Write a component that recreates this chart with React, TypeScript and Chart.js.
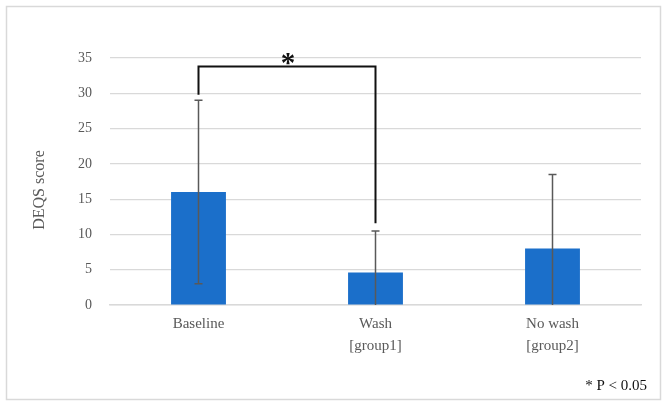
import React, { useEffect, useRef } from "react";
import { Chart, registerables } from "chart.js";

Chart.register(...registerables);

const categories: (string | string[])[] = ["Baseline", ["Wash", "[group1]"], ["No wash", "[group2]"]];
const means: number[] = [16, 4.6, 8];
const errors: number[] = [13, 5.9, 10.5];
const yTicksMax = 35;
const yStep = 5;
const bracketFrom = 0;
const bracketTo = 1;
const bracketTop = 33.8;
const bracketLeftEnd = 29.8;
const bracketRightEnd = 11.6;
const sigLabel = "*";
const axisTitle = "DEQS score";
const footnote = "* P < 0.05";

const SERIF = "'Liberation Serif', 'DejaVu Serif', serif";

export default function App() {
  const ref = useRef<HTMLCanvasElement | null>(null);
  useEffect(() => {
    document.body.style.margin = "0";
    const canvas = ref.current;
    if (!canvas) return;

    const overlay = {
      id: "overlay",
      beforeDraw(chart: any) {
        const ctx = chart.ctx;
        ctx.save();
        ctx.fillStyle = "#ffffff";
        ctx.fillRect(0, 0, chart.width, chart.height);
        ctx.strokeStyle = "#d9d9d9";
        ctx.lineWidth = 1.5;
        ctx.strokeRect(6.5, 6.5, 654, 393);
        ctx.restore();
      },
      afterDatasetsDraw(chart: any) {
        const ctx = chart.ctx;
        const y = chart.scales.y;
        const meta = chart.getDatasetMeta(0);
        const area = chart.chartArea;
        ctx.save();
        // error bars
        ctx.strokeStyle = "#595959";
        ctx.lineWidth = 1.5;
        meta.data.forEach((bar: any, i: number) => {
          const x = bar.x;
          const hi = y.getPixelForValue(means[i] + errors[i]);
          const loVal = means[i] - errors[i];
          const lo = loVal < 0 ? area.bottom : y.getPixelForValue(loVal);
          ctx.beginPath();
          ctx.moveTo(x, hi);
          ctx.lineTo(x, lo);
          ctx.moveTo(x - 4, hi);
          ctx.lineTo(x + 4, hi);
          if (loVal >= 0) {
            ctx.moveTo(x - 4, lo);
            ctx.lineTo(x + 4, lo);
          }
          ctx.stroke();
        });
        // significance bracket
        const x1 = meta.data[bracketFrom].x;
        const x2 = meta.data[bracketTo].x;
        const yt = y.getPixelForValue(bracketTop);
        ctx.strokeStyle = "#111111";
        ctx.lineWidth = 2;
        ctx.beginPath();
        ctx.moveTo(x1, y.getPixelForValue(bracketLeftEnd));
        ctx.lineTo(x1, yt);
        ctx.lineTo(x2, yt);
        ctx.lineTo(x2, y.getPixelForValue(bracketRightEnd));
        ctx.stroke();
        ctx.fillStyle = "#111111";
        ctx.font = "bold 29px " + SERIF;
        ctx.textAlign = "center";
        ctx.textBaseline = "middle";
        ctx.fillText(sigLabel, (x1 + x2) / 2 + 1, yt - 2);
        // axis title
        ctx.save();
        ctx.translate(40, 190);
        ctx.rotate(-Math.PI / 2);
        ctx.fillStyle = "#595959";
        ctx.font = "16px " + SERIF;
        ctx.textAlign = "center";
        ctx.textBaseline = "middle";
        ctx.fillText(axisTitle, 0, 0);
        ctx.restore();
        // footnote
        ctx.fillStyle = "#111111";
        ctx.font = "15px " + SERIF;
        ctx.textAlign = "right";
        ctx.textBaseline = "middle";
        ctx.fillText(footnote, 647, 386);
        ctx.restore();
      },
    };

    const chart = new Chart(canvas, {
      type: "bar",
      data: {
        labels: categories,
        datasets: [
          {
            data: means,
            backgroundColor: "#1b6fca",
            borderWidth: 0,
            barPercentage: 0.31,
            categoryPercentage: 1,
          },
        ],
      },
      options: {
        animation: false,
        responsive: false,
        events: [],
        layout: { padding: { top: 58, right: 29, bottom: 43, left: 0 } },
        plugins: { legend: { display: false }, tooltip: { enabled: false } },
        scales: {
          x: {
            grid: { display: false, drawTicks: false },
            border: { display: true, color: "#d9d9d9", width: 1.5 },
            ticks: {
              color: "#595959",
              font: { family: SERIF, size: 15, lineHeight: 1.45 },
              padding: 8,
              maxRotation: 0,
              autoSkip: false,
            },
            afterFit: (s: any) => {
              s.height = 60;
            },
          },
          y: {
            min: 0,
            max: yTicksMax,
            grid: { color: "#d9d9d9", lineWidth: 1.2, drawTicks: false },
            border: { display: false },
            ticks: {
              stepSize: yStep,
              color: "#595959",
              font: { family: SERIF, size: 14 },
              padding: 18,
            },
            afterFit: (s: any) => {
              s.width = 110;
            },
          },
        },
      },
      plugins: [overlay],
    });
    return () => chart.destroy();
  }, []);

  return (
    <div style={{ width: 670, height: 408 }}>
      <canvas ref={ref} width={670} height={408} style={{ display: "block", width: 670, height: 408 }} />
    </div>
  );
}
